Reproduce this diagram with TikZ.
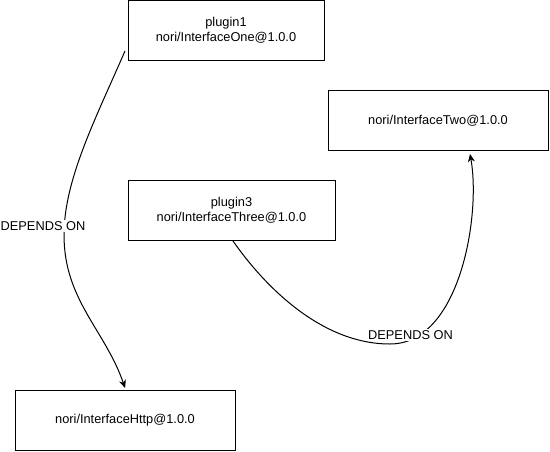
\documentclass[tikz,border=0pt]{standalone}
\usepackage{fontspec}
\setmainfont{Liberation Sans}
\usetikzlibrary{calc,arrows.meta}
\begin{document}
\begin{tikzpicture}[x=1pt,y=-1pt,
  box/.style={draw=black,line width=1pt,minimum width=#1,minimum height=60pt,
    inner sep=0pt,align=center,font=\fontsize{12.8}{15}\selectfont},
  dep/.style={draw=black,line width=1pt,-{Stealth[length=8pt,width=7pt,inset=2.5pt]}},
  lab/.style={fill=white,inner sep=1pt,font=\fontsize{12.8}{15}\selectfont}]
\useasboundingbox (0,0) rectangle (550,451);
\node[box=196pt] (p1) at (226,30.5) {plugin1\\nori/InterfaceOne@1.0.0};
\node[box=220pt] (two) at (438,120.5) {nori/InterfaceTwo@1.0.0};
\node[box=207pt] (p3) at (231.5,210.5) {plugin3\\nori/InterfaceThree@1.0.0};
\node[box=220pt] (http) at (125,420.5) {nori/InterfaceHttp@1.0.0};
\coordinate (s1) at ($(p1.south west)+(-2.5,-10)$);
\coordinate (e1) at ($(http.north west)+(110.6,-2)$);
\coordinate (s2) at ($(p3.south)+(1.5,0)$);
\coordinate (e2) at ($(two.south)+(32,3)$);
\draw[dep] (s1) .. controls (95,120) and (64,180) .. (64,235)
  .. controls (64,300) and (105,330) .. (e1);
\draw[dep] (s2) .. controls (263,284) and (320,344) .. (390,344)
  .. controls (460,344) and (481,215) .. (e2);
\node[lab] (l1) at (43,226) {DEPENDS ON};
\node[lab] (l2) at (410.5,335) {DEPENDS ON};
\end{tikzpicture}
\end{document}
